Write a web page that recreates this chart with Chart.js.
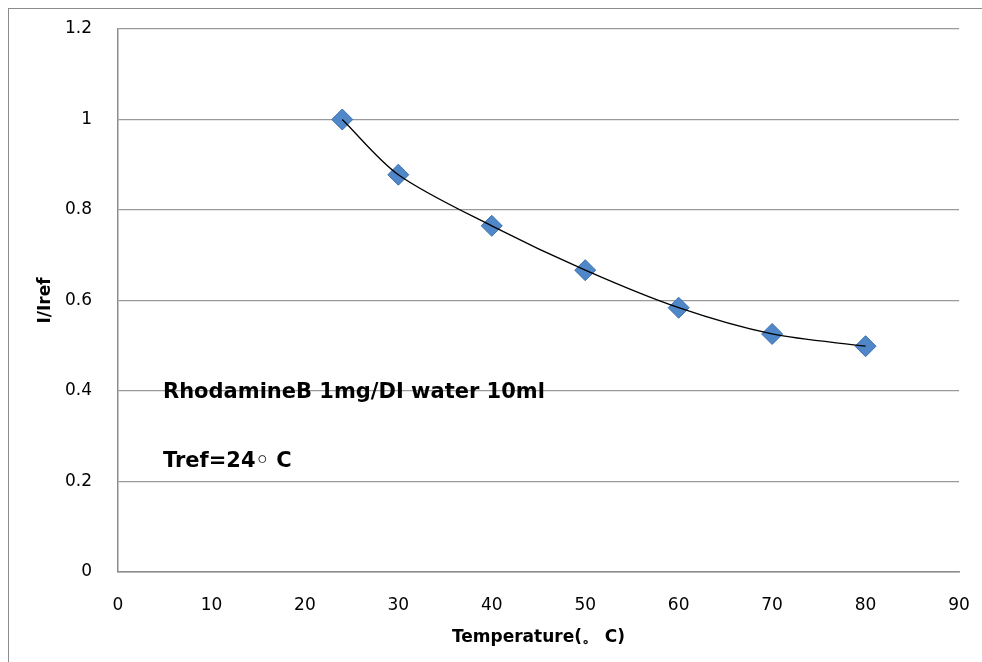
<!DOCTYPE html>
<html>
<head>
<meta charset="utf-8">
<script src="https://cdn.jsdelivr.net/npm/chart.js@4/dist/chart.umd.min.js"></script>
<style>
  html, body { margin: 0; padding: 0; background: #fff; overflow: hidden; }
  #wrap { position: relative; width: 982px; height: 662px; overflow: hidden; }
  #frame {
    position: absolute; left: 8px; top: 8px; width: 1000px; height: 700px;
    border: 1px solid #8c8c8c; box-sizing: border-box;
  }
  canvas { position: absolute; left: 0; top: 0; }
</style>
</head>
<body>
<div id="wrap">
  <div id="frame"></div>
  <canvas id="chart" width="982" height="662"></canvas>
</div>
<script>
const temperatures = [24, 30, 40, 50, 60, 70, 80];
const intensityRatio = [1.0, 0.878, 0.765, 0.667, 0.584, 0.526, 0.499];
const xRange = [0, 90];
const yRange = [0, 1.2];
const xTitle = "Temperature(\u3002 C)";
const yTitle = "I/Iref";
const notes = ["RhodamineB 1mg/DI water 10ml", "Tref=24\u25E6 C"];

const points = temperatures.map((t, i) => ({ x: t, y: intensityRatio[i] }));

const tickFont = { family: "'DejaVu Sans', sans-serif", size: 17 };
const titleFont = { family: "'DejaVu Sans', sans-serif", size: 17, weight: "bold" };

// Bold text notes inside the plot
const notesPlugin = {
  id: "notes",
  afterDraw(chart) {
    const { ctx, chartArea } = chart;
    ctx.save();
    ctx.fillStyle = "#000";
    ctx.font = "bold 21px 'DejaVu Sans', sans-serif";
    ctx.textBaseline = "alphabetic";
    ctx.fillText(notes[0], chartArea.left + 45, 398);
    ctx.fillText(notes[1], chartArea.left + 45, 467);
    ctx.restore();
  },
};

new Chart(document.getElementById("chart"), {
  type: "scatter",
  data: {
    datasets: [
      {
        label: "trend",
        data: points,
        showLine: true,
        borderColor: "#000",
        borderWidth: 1.3,
        tension: 0.3,
        pointRadius: 0,
        order: 0,
      },
      {
        label: "I/Iref",
        data: points,
        showLine: false,
        pointStyle: "rectRot",
        pointRadius: 10.5,
        backgroundColor: "#4f87c9",
        borderColor: "#3c70ae",
        borderWidth: 1,
        order: 1,
      },
    ],
  },
  options: {
    responsive: false,
    animation: false,
    layout: { padding: { left: 0, top: 29, right: 23, bottom: 0 } },
    plugins: {
      legend: { display: false },
      tooltip: { enabled: false },
    },
    scales: {
      x: {
        type: "linear",
        min: xRange[0],
        max: xRange[1],
        ticks: { stepSize: 10, color: "#000", font: tickFont, padding: 23 },
        grid: { display: false, drawTicks: false },
        border: { display: true, color: "#8c8c8c", width: 1.5 },
        title: {
          display: true,
          text: xTitle,
          color: "#000",
          font: titleFont,
          padding: { top: 0, bottom: 14 },
        },
        afterFit: (s) => {
          s.height = 90;
          s.paddingLeft = 0;
          s.paddingRight = 0;
        },
      },
      y: {
        min: yRange[0],
        max: yRange[1],
        ticks: {
          stepSize: 0.2,
          color: "#000",
          font: tickFont,
          padding: 26,
          callback: (v) => String(+v.toFixed(1)),
        },
        grid: { color: "#9a9a9a", lineWidth: 1.3, drawTicks: false },
        border: { display: true, color: "#8c8c8c", width: 1.5 },
        title: {
          display: true,
          text: yTitle,
          color: "#000",
          font: titleFont,
          padding: { top: 35, bottom: 0 },
        },
        afterFit: (s) => {
          s.width = 118;
          s.paddingTop = 0;
          s.paddingBottom = 0;
        },
      },
    },
  },
  plugins: [notesPlugin],
});
</script>
</body>
</html>
